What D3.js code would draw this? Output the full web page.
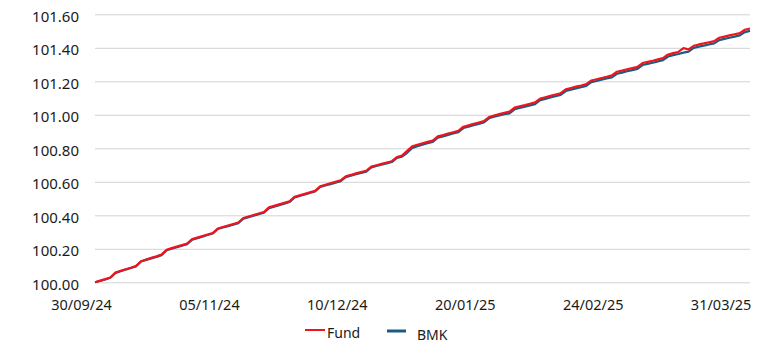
<!DOCTYPE html>
<html>
<head>
<meta charset="utf-8">
<script src="https://cdn.jsdelivr.net/npm/d3@7"></script>
<style>
  html, body { margin: 0; padding: 0; background: #ffffff; }
  svg { display: block; }
  svg text { font-family: "Noto Sans", "Open Sans", sans-serif; }
</style>
</head>
<body>
<svg id="chart" width="762" height="343"></svg>
<script>
// Pricing days shown on the axis (weekdays, market holidays removed)
const startDate = "2024-09-30";
const endDate = "2025-04-04";
const holidays = ["2024-10-28", "2024-12-25", "2024-12-26", "2024-12-31", "2025-01-01"];

// Axis labels every 25 pricing days
const tickLabels = ["30/09/24", "05/11/24", "10/12/24", "20/01/25", "24/02/25", "31/03/25"];
const yTicks = [100.0, 100.2, 100.4, 100.6, 100.8, 101.0, 101.2, 101.4, 101.6];

// Rebased performance (30/09/24 = 100)
const fund = [
  100.000, 100.010, 100.019, 100.029, 100.058, 100.068, 100.078, 100.087, 100.097, 100.126,
  100.136, 100.146, 100.155, 100.165, 100.194, 100.204, 100.213, 100.222, 100.231, 100.258,
  100.267, 100.276, 100.285, 100.294, 100.321, 100.330, 100.339, 100.348, 100.357, 100.384,
  100.393, 100.402, 100.411, 100.420, 100.447, 100.456, 100.465, 100.474, 100.483, 100.510,
  100.519, 100.528, 100.537, 100.546, 100.573, 100.582, 100.591, 100.600, 100.609, 100.633,
  100.641, 100.650, 100.658, 100.666, 100.691, 100.699, 100.707, 100.715, 100.723, 100.748,
  100.756, 100.785, 100.812, 100.821, 100.830, 100.838, 100.846, 100.871, 100.879, 100.888,
  100.896, 100.904, 100.929, 100.937, 100.946, 100.954, 100.962, 100.987, 100.996, 101.004,
  101.012, 101.019, 101.043, 101.051, 101.058, 101.066, 101.074, 101.097, 101.105, 101.113,
  101.121, 101.129, 101.152, 101.160, 101.168, 101.175, 101.183, 101.205, 101.212, 101.220,
  101.227, 101.235, 101.257, 101.264, 101.272, 101.279, 101.286, 101.309, 101.316, 101.323,
  101.331, 101.338, 101.360, 101.368, 101.375, 101.398, 101.390, 101.412, 101.420, 101.426,
  101.433, 101.440, 101.460, 101.467, 101.474, 101.481, 101.488, 101.508, 101.515
];

const bmk = [
  100.000, 100.008, 100.017, 100.027, 100.056, 100.066, 100.076, 100.085, 100.095, 100.124,
  100.134, 100.143, 100.152, 100.162, 100.191, 100.201, 100.210, 100.219, 100.228, 100.255,
  100.264, 100.273, 100.282, 100.291, 100.318, 100.327, 100.335, 100.344, 100.353, 100.380,
  100.389, 100.398, 100.407, 100.416, 100.443, 100.452, 100.461, 100.470, 100.479, 100.506,
  100.515, 100.524, 100.533, 100.542, 100.569, 100.578, 100.586, 100.595, 100.604, 100.628,
  100.636, 100.645, 100.653, 100.661, 100.686, 100.694, 100.702, 100.710, 100.718, 100.743,
  100.750, 100.773, 100.802, 100.813, 100.822, 100.830, 100.838, 100.863, 100.871, 100.880,
  100.888, 100.896, 100.921, 100.929, 100.938, 100.946, 100.954, 100.979, 100.988, 100.996,
  101.004, 101.009, 101.033, 101.041, 101.048, 101.056, 101.064, 101.087, 101.095, 101.103,
  101.111, 101.119, 101.142, 101.150, 101.158, 101.165, 101.173, 101.195, 101.202, 101.210,
  101.217, 101.223, 101.245, 101.252, 101.260, 101.267, 101.274, 101.297, 101.304, 101.311,
  101.319, 101.326, 101.348, 101.356, 101.363, 101.371, 101.377, 101.399, 101.407, 101.413,
  101.420, 101.426, 101.446, 101.453, 101.460, 101.467, 101.474, 101.494, 101.501
];

const seriesColors = { Fund: "#f0141e", BMK: "#1c5c80" };

(function () {
  // Build the category list of pricing days
  const fmt = d3.timeFormat("%d/%m/%y");
  const iso = d3.timeFormat("%Y-%m-%d");
  const parse = d3.timeParse("%Y-%m-%d");
  const dates = d3.timeDay.range(parse(startDate), parse(endDate))
    .filter(d => d.getDay() !== 0 && d.getDay() !== 6 && !holidays.includes(iso(d)))
    .map(fmt);

  const svg = d3.select("#chart");
  const plotLeft = 95, plotRight = 750, plotTop = 14.3, plotBottom = 282.3;

  const x = d3.scalePoint().domain(dates).range([plotLeft, plotRight]);
  const y = d3.scaleLinear().domain([100, 101.6]).range([plotBottom, plotTop]);

  // Horizontal gridlines and value labels
  const yAxis = svg.append("g")
    .attr("transform", `translate(${plotLeft},0)`)
    .call(d3.axisLeft(y)
      .tickValues(yTicks)
      .tickSize(-(plotRight - plotLeft))
      .tickPadding(16)
      .tickFormat(d3.format(".2f")));
  yAxis.attr("font-family", null).attr("font-size", null);
  yAxis.select(".domain").remove();
  yAxis.selectAll(".tick line").attr("stroke", "#d3d3d3").attr("stroke-width", 1);
  yAxis.selectAll(".tick text")
    .attr("fill", "#1a1a1a")
    .style("font-size", "15px")
    .attr("dy", "0.47em");

  // Date labels
  const xAxis = svg.append("g")
    .attr("transform", `translate(0,${plotBottom})`)
    .call(d3.axisBottom(x)
      .tickValues(tickLabels)
      .tickSize(0)
      .tickPadding(0));
  xAxis.attr("font-family", null).attr("font-size", null);
  xAxis.select(".domain").remove();
  xAxis.selectAll(".tick text")
    .attr("fill", "#1a1a1a")
    .style("font-size", "14.5px")
    .attr("dx", -14)
    .attr("dy", 0)
    .attr("y", 28);

  // Performance lines
  const line = d3.line()
    .x((d, i) => x(dates[i]))
    .y(d => y(d));

  svg.append("path")
    .datum(bmk)
    .attr("fill", "none")
    .attr("stroke", seriesColors.BMK)
    .attr("stroke-width", 2.2)
    .attr("stroke-linejoin", "round")
    .attr("d", line);

  svg.append("path")
    .datum(fund)
    .attr("fill", "none")
    .attr("stroke", seriesColors.Fund)
    .attr("stroke-width", 2.2)
    .attr("stroke-linejoin", "round")
    .attr("d", line);

  // Legend
  const legend = svg.append("g");
  const legendItems = [
    { name: "Fund", x1: 305, x2: 325, ly: 330, tx: 327, ty: 337.5, w: 2 },
    { name: "BMK", x1: 387, x2: 406, ly: 331, tx: 417, ty: 339.5, w: 3 }
  ];
  legendItems.forEach(it => {
    legend.append("line")
      .attr("x1", it.x1).attr("x2", it.x2)
      .attr("y1", it.ly).attr("y2", it.ly)
      .attr("stroke", seriesColors[it.name])
      .attr("stroke-width", it.w);
    legend.append("text")
      .attr("x", it.tx).attr("y", it.ty)
      .attr("fill", "#1a1a1a")
      .style("font-size", "14px")
      .text(it.name);
  });
})();
</script>
</body>
</html>
